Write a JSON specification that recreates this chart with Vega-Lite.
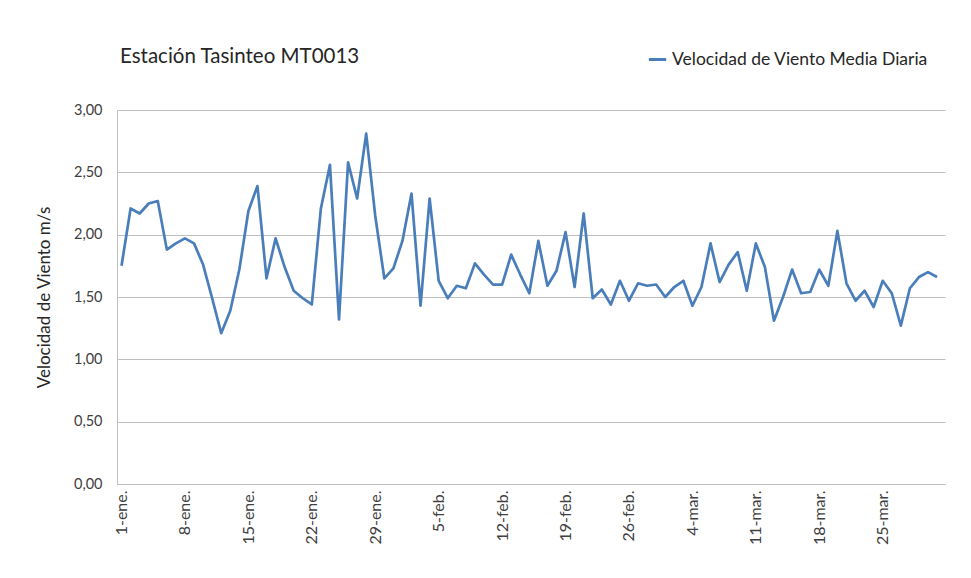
{
  "$schema": "https://vega.github.io/schema/vega-lite/v6.json",
  "autosize": {"type": "none"},
  "padding": {"left": 117, "top": 110, "right": 26, "bottom": 94},
  "width": 828,
  "height": 374,
  "background": "white",
  "title": {
    "text": "Estación Tasinteo MT0013",
    "anchor": "start",
    "frame": "group",
    "font": "Lato",
    "fontSize": 20.5,
    "fontWeight": "normal",
    "color": "#262626",
    "offset": 0,
    "dy": 18,
    "dx": 3
  },
  "data": {
    "values": [
      {"fecha": "2012-01-01", "v": 1.75}, {"fecha": "2012-01-02", "v": 2.21}, {"fecha": "2012-01-03", "v": 2.17},
      {"fecha": "2012-01-04", "v": 2.25}, {"fecha": "2012-01-05", "v": 2.27}, {"fecha": "2012-01-06", "v": 1.88},
      {"fecha": "2012-01-07", "v": 1.93}, {"fecha": "2012-01-08", "v": 1.97}, {"fecha": "2012-01-09", "v": 1.93},
      {"fecha": "2012-01-10", "v": 1.76}, {"fecha": "2012-01-11", "v": 1.49}, {"fecha": "2012-01-12", "v": 1.21},
      {"fecha": "2012-01-13", "v": 1.39}, {"fecha": "2012-01-14", "v": 1.72}, {"fecha": "2012-01-15", "v": 2.19},
      {"fecha": "2012-01-16", "v": 2.39}, {"fecha": "2012-01-17", "v": 1.65}, {"fecha": "2012-01-18", "v": 1.97},
      {"fecha": "2012-01-19", "v": 1.74}, {"fecha": "2012-01-20", "v": 1.55}, {"fecha": "2012-01-21", "v": 1.49},
      {"fecha": "2012-01-22", "v": 1.44}, {"fecha": "2012-01-23", "v": 2.21}, {"fecha": "2012-01-24", "v": 2.56},
      {"fecha": "2012-01-25", "v": 1.32}, {"fecha": "2012-01-26", "v": 2.58}, {"fecha": "2012-01-27", "v": 2.29},
      {"fecha": "2012-01-28", "v": 2.81}, {"fecha": "2012-01-29", "v": 2.15}, {"fecha": "2012-01-30", "v": 1.65},
      {"fecha": "2012-01-31", "v": 1.73}, {"fecha": "2012-02-01", "v": 1.95}, {"fecha": "2012-02-02", "v": 2.33},
      {"fecha": "2012-02-03", "v": 1.43}, {"fecha": "2012-02-04", "v": 2.29}, {"fecha": "2012-02-05", "v": 1.63},
      {"fecha": "2012-02-06", "v": 1.49}, {"fecha": "2012-02-07", "v": 1.59}, {"fecha": "2012-02-08", "v": 1.57},
      {"fecha": "2012-02-09", "v": 1.77}, {"fecha": "2012-02-10", "v": 1.68}, {"fecha": "2012-02-11", "v": 1.60},
      {"fecha": "2012-02-12", "v": 1.60}, {"fecha": "2012-02-13", "v": 1.84}, {"fecha": "2012-02-14", "v": 1.68},
      {"fecha": "2012-02-15", "v": 1.53}, {"fecha": "2012-02-16", "v": 1.95}, {"fecha": "2012-02-17", "v": 1.59},
      {"fecha": "2012-02-18", "v": 1.71}, {"fecha": "2012-02-19", "v": 2.02}, {"fecha": "2012-02-20", "v": 1.58},
      {"fecha": "2012-02-21", "v": 2.17}, {"fecha": "2012-02-22", "v": 1.49}, {"fecha": "2012-02-23", "v": 1.56},
      {"fecha": "2012-02-24", "v": 1.44}, {"fecha": "2012-02-25", "v": 1.63}, {"fecha": "2012-02-26", "v": 1.47},
      {"fecha": "2012-02-27", "v": 1.61}, {"fecha": "2012-02-28", "v": 1.59}, {"fecha": "2012-02-29", "v": 1.60},
      {"fecha": "2012-03-01", "v": 1.50}, {"fecha": "2012-03-02", "v": 1.58}, {"fecha": "2012-03-03", "v": 1.63},
      {"fecha": "2012-03-04", "v": 1.43}, {"fecha": "2012-03-05", "v": 1.58}, {"fecha": "2012-03-06", "v": 1.93},
      {"fecha": "2012-03-07", "v": 1.62}, {"fecha": "2012-03-08", "v": 1.76}, {"fecha": "2012-03-09", "v": 1.86},
      {"fecha": "2012-03-10", "v": 1.55}, {"fecha": "2012-03-11", "v": 1.93}, {"fecha": "2012-03-12", "v": 1.74},
      {"fecha": "2012-03-13", "v": 1.31}, {"fecha": "2012-03-14", "v": 1.50}, {"fecha": "2012-03-15", "v": 1.72},
      {"fecha": "2012-03-16", "v": 1.53}, {"fecha": "2012-03-17", "v": 1.54}, {"fecha": "2012-03-18", "v": 1.72},
      {"fecha": "2012-03-19", "v": 1.59}, {"fecha": "2012-03-20", "v": 2.03}, {"fecha": "2012-03-21", "v": 1.61},
      {"fecha": "2012-03-22", "v": 1.47}, {"fecha": "2012-03-23", "v": 1.55}, {"fecha": "2012-03-24", "v": 1.42},
      {"fecha": "2012-03-25", "v": 1.63}, {"fecha": "2012-03-26", "v": 1.53}, {"fecha": "2012-03-27", "v": 1.27},
      {"fecha": "2012-03-28", "v": 1.57}, {"fecha": "2012-03-29", "v": 1.66}, {"fecha": "2012-03-30", "v": 1.70},
      {"fecha": "2012-03-31", "v": 1.66}
    ]
  },
  "mark": {"type": "line", "strokeWidth": 2.7, "strokeJoin": "round"},
  "encoding": {
    "x": {
      "field": "fecha",
      "type": "temporal",
      "scale": {
        "type": "utc",
        "domain": [
          {"year": 2011, "month": 12, "date": 31, "hours": 12, "utc": true},
          {"year": 2012, "month": 3, "date": 31, "hours": 21, "utc": true}
        ]
      },
      "axis": {
        "title": null,
        "grid": false,
        "ticks": false,
        "domainColor": "#bfbfbf",
        "domainWidth": 1,
        "labelAngle": 270,
        "labelPadding": 6,
        "labelFont": "Lato",
        "labelFontSize": 16,
        "labelColor": "#404040",
        "labelOverlap": false,
        "values": [
          {"year": 2012, "month": 1, "date": 1, "utc": true},
          {"year": 2012, "month": 1, "date": 8, "utc": true},
          {"year": 2012, "month": 1, "date": 15, "utc": true},
          {"year": 2012, "month": 1, "date": 22, "utc": true},
          {"year": 2012, "month": 1, "date": 29, "utc": true},
          {"year": 2012, "month": 2, "date": 5, "utc": true},
          {"year": 2012, "month": 2, "date": 12, "utc": true},
          {"year": 2012, "month": 2, "date": 19, "utc": true},
          {"year": 2012, "month": 2, "date": 26, "utc": true},
          {"year": 2012, "month": 3, "date": 4, "utc": true},
          {"year": 2012, "month": 3, "date": 11, "utc": true},
          {"year": 2012, "month": 3, "date": 18, "utc": true},
          {"year": 2012, "month": 3, "date": 25, "utc": true}
        ],
        "labelExpr": "utcdate(datum.value) + '-' + ['ene.', 'feb.', 'mar.', 'abr.'][utcmonth(datum.value)]"
      }
    },
    "y": {
      "field": "v",
      "type": "quantitative",
      "scale": {"domain": [0, 3], "nice": false, "zero": true},
      "axis": {
        "title": "Velocidad de Viento m/s",
        "titleFont": "Lato",
        "titleFontSize": 17,
        "titleFontWeight": "normal",
        "titleColor": "#262626",
        "titlePadding": 20,
        "values": [0, 0.5, 1, 1.5, 2, 2.5, 3],
        "labelExpr": "replace(format(datum.value, '.2f'), '.', ',')",
        "labelFont": "Lato",
        "labelFontSize": 14.5,
        "labelColor": "#404040",
        "labelPadding": 15,
        "ticks": false,
        "grid": true,
        "gridColor": "#bfbfbf",
        "gridWidth": 1,
        "domainColor": "#bfbfbf",
        "domainWidth": 1
      }
    },
    "color": {
      "datum": "Velocidad de Viento Media Diaria",
      "type": "nominal",
      "scale": {"range": ["#4a7ebb"]},
      "legend": {
        "title": null,
        "orient": "none",
        "legendX": 530,
        "legendY": -61,
        "symbolType": "stroke",
        "symbolStrokeWidth": 3,
        "symbolSize": 300,
        "labelFont": "Lato",
        "labelFontSize": 17.5,
        "labelColor": "#262626",
        "labelOffset": 4,
        "labelLimit": 400
      }
    }
  },
  "config": {
    "view": {"stroke": null}
  }
}
